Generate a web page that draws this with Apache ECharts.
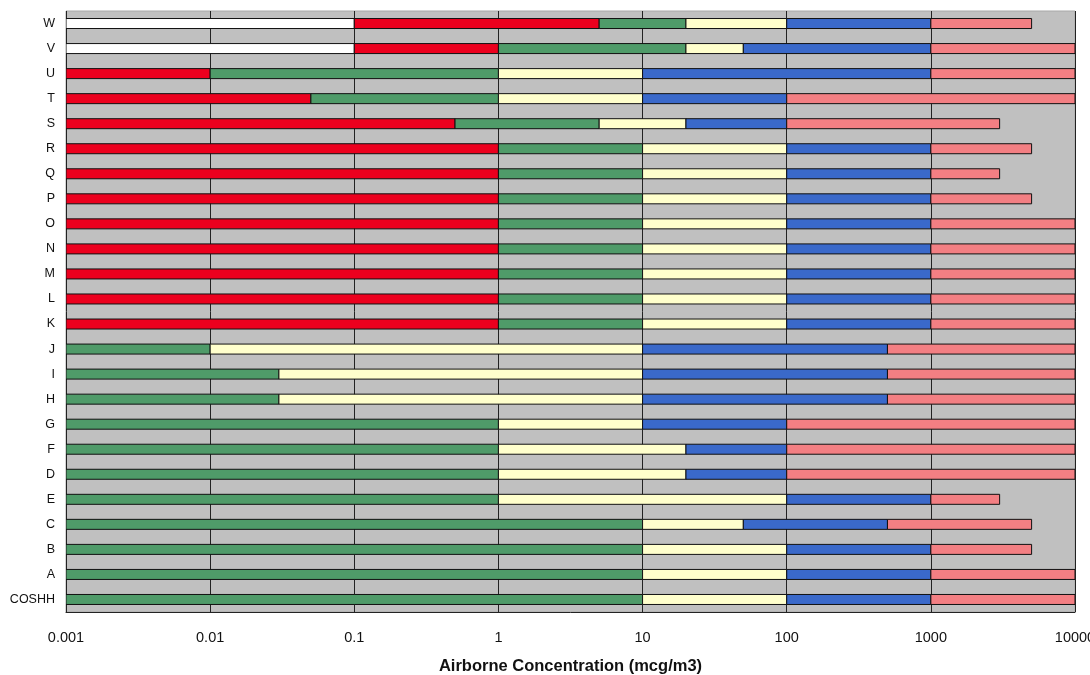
<!DOCTYPE html>
<html>
<head>
<meta charset="utf-8">
<script src="https://cdn.jsdelivr.net/npm/echarts@6/dist/echarts.min.js"></script>
<style>html,body{margin:0;padding:0;background:#fff;overflow:hidden;}#chart{width:1090px;height:675px;}</style>
</head>
<body>
<div id="chart"></div>
<script>
// Categories from bottom to top
const categories = ['COSHH','A','B','C','E','D','F','G','H','I','J','K','L','M','N','O','P','Q','R','S','T','U','V','W'];
const axisStart = 0.001;
// Upper boundary of each colour band per row (null = band absent)
const whiteEnd  = [null,null,null,null,null,null,null,null,null,null,null,null,null,null,null,null,null,null,null,null,null,null,0.1,0.1];
const redEnd    = [null,null,null,null,null,null,null,null,null,null,null,1,1,1,1,1,1,1,1,0.5,0.05,0.01,1,5];
const greenEnd  = [10,10,10,10,1,1,1,1,0.03,0.03,0.01,10,10,10,10,10,10,10,10,5,1,1,20,20];
const yellowEnd = [100,100,100,50,100,20,20,10,10,10,10,100,100,100,100,100,100,100,100,20,10,10,50,100];
const blueEnd   = [1000,1000,1000,500,1000,100,100,100,500,500,500,1000,1000,1000,1000,1000,1000,1000,1000,100,100,1000,1000,1000];
const pinkEnd   = [10000,10000,5000,5000,3000,10000,10000,10000,10000,10000,10000,10000,10000,10000,10000,10000,5000,3000,5000,3000,10000,10000,10000,5000];
const xTicks = [0.001,0.01,0.1,1,10,100,1000,10000];

const bands = [
  {name:'white', ends: whiteEnd, color:'#FFFFFF'},
  {name:'red', ends: redEnd, color:'#EC001E'},
  {name:'green', ends: greenEnd, color:'#4F9B69'},
  {name:'yellow', ends: yellowEnd, color:'#FFFFCC'},
  {name:'blue', ends: blueEnd, color:'#3A69CA'},
  {name:'pink', ends: pinkEnd, color:'#F37F83'}
];

const series = bands.map((band, b) => {
  const data = [];
  categories.forEach((c, i) => {
    const end = band.ends[i];
    if (end == null) return;
    let start = axisStart;
    for (let k = b - 1; k >= 0; k--) {
      if (bands[k].ends[i] != null) { start = bands[k].ends[i]; break; }
    }
    data.push([i, start, end]);
  });
  return {
    type: 'custom',
    name: band.name,
    encode: {x: [1, 2], y: 0},
    clip: true,
    data: data,
    renderItem: function (params, api) {
      const cat = api.value(0);
      const p0 = api.coord([api.value(1), cat]);
      const p1 = api.coord([api.value(2), cat]);
      const h = 10;
      return {
        type: 'rect',
        shape: {x: p0[0], y: p0[1] - h / 2, width: p1[0] - p0[0], height: h},
        style: {fill: band.color, stroke: '#111', lineWidth: 1}
      };
    }
  };
});

const chart = echarts.init(document.getElementById('chart'), null, {renderer: 'canvas'});
chart.setOption({
  animation: false,
  grid: {left: 66, right: 15, top: 11, bottom: 63, containLabel: false, outerBoundsMode: 'none', show: true, backgroundColor: '#C0C0C0', borderColor: '#A8A8A8', borderWidth: 1},
  xAxis: {
    type: 'log', logBase: 10, min: 0.001, max: 10000,
    name: 'Airborne Concentration (mcg/m3)', nameLocation: 'middle', nameGap: 46,
    nameTextStyle: {fontFamily: 'Liberation Sans, Arial', fontSize: 16.5, fontWeight: 'bold', color: '#111'},
    axisLine: {show: true, lineStyle: {color: '#222', width: 1}},
    axisTick: {show: false},
    splitLine: {show: true, lineStyle: {color: '#222', width: 1}},
    axisLabel: {
      margin: 18, fontFamily: 'Liberation Sans, Arial', fontSize: 14.5, color: '#111',
      formatter: function (v) {
        const idx = xTicks.findIndex(t => Math.abs(Math.log10(t) - Math.log10(v)) < 1e-6);
        return idx >= 0 ? String(xTicks[idx]) : '';
      }
    }
  },
  yAxis: {
    type: 'category', data: categories,
    axisLine: {show: false}, axisTick: {show: false}, splitLine: {show: false},
    axisLabel: {margin: 11, fontFamily: 'Liberation Sans, Arial', fontSize: 12.5, color: '#111'}
  },
  series: series
});
</script>
</body>
</html>
